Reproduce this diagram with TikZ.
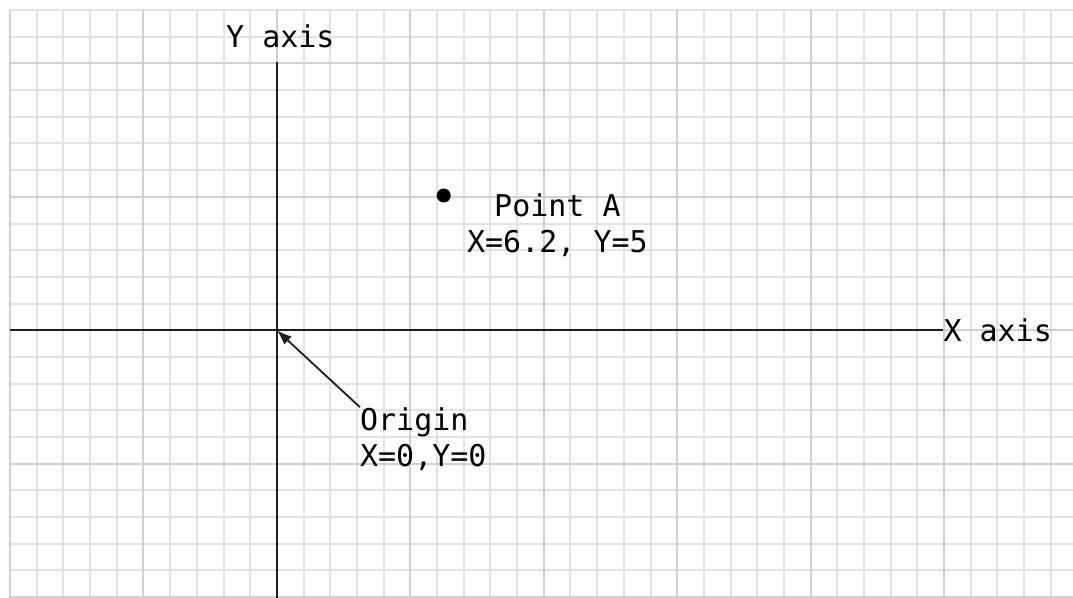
\documentclass[tikz,border=0pt]{standalone}
\usepackage{fontspec}
\setmonofont{DejaVu Sans Mono}
\usetikzlibrary{arrows.meta,positioning}
\definecolor{gridminor}{RGB}{226,226,226}
\definecolor{gridmajor}{RGB}{208,208,208}
\definecolor{axisgray}{RGB}{30,30,30}
\tikzset{
  minorline/.style={draw=gridminor, line width=2pt},
  majorline/.style={draw=gridmajor, line width=2pt},
  axisline/.style={draw=axisgray, line width=2.4pt},
  pointer/.style={-{Latex[length=15pt,width=11pt]}, line width=1.8pt, draw=axisgray},
  dot/.style={circle, fill=black, inner sep=0pt, minimum size=14pt},
  lbl/.style={font=\ttfamily\fontsize{30}{36.5}\selectfont, inner sep=0pt, text=black}
}

\begin{document}
\begin{tikzpicture}[x=26.69pt, y=26.69pt]
  \useasboundingbox (-10.375,-10.03) rectangle (29.83,12.375);
  % grid paper
  \foreach \i in {-10,...,29} \draw[minorline] (\i,12) -- (\i,-10.03);
  \foreach \j in {-10,...,12} \draw[minorline] (-10,\j) -- (29.83,\j);
  \foreach \i in {-10,-5,...,25} \draw[majorline] (\i,12) -- (\i,-10.03);
  \foreach \j in {-10,-5,...,10} \draw[majorline] (-10,\j) -- (29.83,\j);
  % axes
  \coordinate (O) at (0,0);
  \coordinate (xstart) at (-10,0);
  \coordinate (ybot) at (0,-10.03);
  \coordinate (ytop) at (0,10.05);
  \node[lbl, anchor=west] (xlab) at (24.97,0) {X axis};
  \node[lbl, anchor=base] (ylab) at (0.13,10.61) {Y axis};
  \draw[axisline] (xstart) -- (xlab.west);
  \draw[axisline] (ybot) -- (ytop);
  % point A
  \node[dot] (ptA) at (6.25,5.05) {};
  \node[lbl, align=center, anchor=base west] (ptAlab) at (7.12,2.90) {Point A\\X=6.2, Y=5};
  % origin
  \node[lbl, align=left, anchor=base west] (orglab) at (3.11,-5.11) {Origin\\X=0,Y=0};
  \draw[pointer] (orglab.north west) -- (O);
\end{tikzpicture}
\end{document}
